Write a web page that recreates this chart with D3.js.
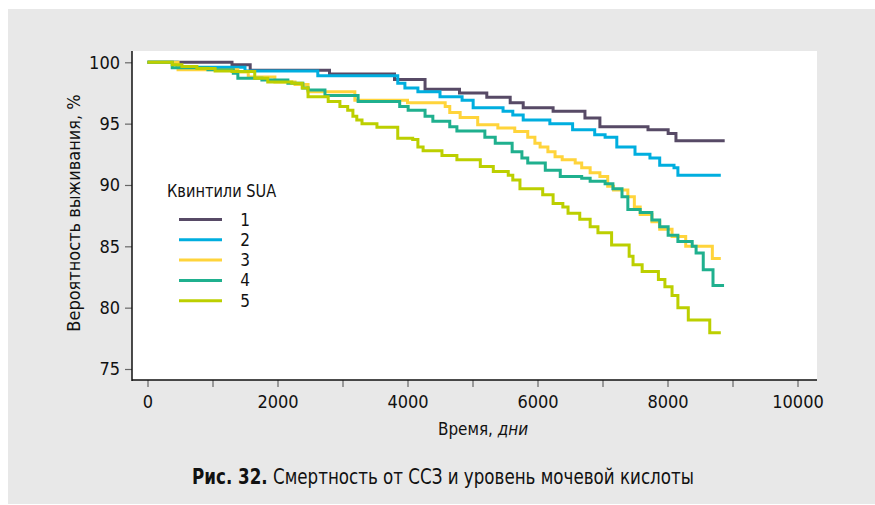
<!DOCTYPE html>
<html>
<head>
<meta charset="utf-8">
<script src="https://cdn.jsdelivr.net/npm/d3@7"></script>
<style>
  body { margin: 0; background: #fff; }
  svg text { font-family: "Liberation Sans Narrow", "DejaVu Sans Condensed", "Roboto", sans-serif; fill: #111; }
</style>
</head>
<body>
<div id="chart"></div>
<script>
// Квинтили SUA: точки ступенек [день, %]
const quintiles = ["1", "2", "3", "4", "5"];
const colors = ["#574a66", "#00aedf", "#ffd43b", "#1fb08e", "#bccf00"];

const q1 = [[0,100],[1300,99.8],[1580,99.35],[2800,99.05],[3800,98.6],[4270,97.8],[4800,97.5],[5220,97.15],[5580,96.7],[5780,96.3],[6240,96.0],[6730,95.45],[6960,94.75],[7700,94.5],[8010,94.2],[8130,93.6],[8880,93.6]];
const q2 = [[0,100],[455,99.6],[1500,99.3],[2620,98.9],[3850,98.3],[3960,97.9],[4160,97.6],[4500,97.2],[4840,96.9],[5010,96.3],[5470,96.0],[5620,95.7],[5780,95.3],[6190,95.0],[6540,94.5],[6880,94.1],[7040,93.9],[7220,93.1],[7500,92.5],[7730,92.2],[7880,91.6],[8100,91.4],[8160,90.8],[8820,90.8]];
const q3 = [[0,100],[470,99.4],[1390,99.2],[1550,98.8],[1960,98.4],[2270,98.2],[2470,97.6],[3190,96.9],[4000,96.7],[4580,96.4],[4650,95.9],[4810,95.5],[5080,94.9],[5390,94.65],[5650,94.35],[5850,93.9],[5960,93.4],[6040,93.1],[6160,92.7],[6270,92.3],[6380,92.05],[6580,91.8],[6680,91.4],[6810,91.0],[6960,90.7],[7080,89.9],[7170,89.6],[7390,89.05],[7490,88.2],[7580,87.6],[7760,87.0],[7880,86.4],[8070,85.8],[8280,85.0],[8690,84.0],[8820,84.0]];
const q4 = [[0,100],[380,99.55],[930,99.4],[1320,99.1],[1390,98.7],[1760,98.55],[2160,98.3],[2390,97.9],[2470,97.75],[2730,97.3],[3240,96.8],[3880,96.4],[4010,96.1],[4270,95.6],[4390,95.2],[4650,94.75],[4760,94.4],[5190,93.9],[5350,93.4],[5610,92.7],[5760,92.2],[5850,91.8],[6120,91.2],[6350,90.7],[6680,90.55],[6810,90.3],[7040,90.1],[7160,89.7],[7300,89.05],[7390,88.0],[7580,87.75],[7760,87.15],[7880,86.6],[8010,85.9],[8160,85.4],[8380,85.0],[8440,84.45],[8550,83.1],[8700,81.8],[8870,81.8]];
const q5 = [[0,100],[380,99.8],[530,99.65],[760,99.5],[1040,99.3],[1300,99.25],[1650,98.7],[1850,98.4],[2220,98.3],[2380,97.9],[2470,97.2],[2780,96.8],[2960,96.4],[3080,96.1],[3160,95.6],[3220,95.3],[3300,95.0],[3530,94.7],[3850,93.8],[4080,93.7],[4160,93.1],[4240,92.8],[4530,92.4],[4760,92.05],[5120,91.5],[5320,91.1],[5550,90.8],[5620,90.4],[5730,89.7],[6080,89.2],[6240,88.5],[6390,88.2],[6470,87.7],[6650,87.2],[6810,86.6],[6930,86.1],[7140,85.1],[7410,84.2],[7470,83.5],[7610,82.95],[7860,82.3],[7960,81.7],[8070,81.0],[8160,80.0],[8320,79.0],[8650,77.95],[8820,77.95]];
const series = [q1, q2, q3, q4, q5];

const xTicks = [0, 1000, 2000, 3000, 4000, 5000, 6000, 7000, 8000, 9000, 10000];
const yTicks = [75, 80, 85, 90, 95, 100];

const width = 875, height = 505;
const plot = { left: 132, right: 817, top: 51, bottom: 380 };

const svg = d3.select("#chart").append("svg")
    .attr("width", width).attr("height", height);

// Фон
svg.append("rect").attr("x", 8).attr("y", 9).attr("width", width - 8).attr("height", height - 10).attr("fill", "#e8e8e8");
svg.append("rect").attr("x", plot.left).attr("y", plot.top)
    .attr("width", plot.right - plot.left).attr("height", plot.bottom - plot.top).attr("fill", "#fff");

const x = d3.scaleLinear().domain([0, 10000]).range([147.5, 797.5]);
const y = d3.scaleLinear().domain([75, 100]).range([369, 62.3]);

// Оси
const xAxis = svg.append("g").attr("transform", `translate(0,${plot.bottom})`)
    .call(d3.axisBottom(x).tickValues(xTicks).tickSize(7).tickSizeOuter(0)
        .tickFormat(d => d % 2000 === 0 ? d : ""));
const yAxis = svg.append("g").attr("transform", `translate(${plot.left},0)`)
    .call(d3.axisLeft(y).tickValues(yTicks).tickSize(7).tickSizeOuter(0));
[xAxis, yAxis].forEach(a => {
    a.select(".domain").remove();
    a.selectAll(".tick line").attr("stroke", "#666").attr("stroke-width", 1.2);
    a.selectAll(".tick text").style("font-size", "18px").attr("fill", "#111");
});
xAxis.selectAll(".tick text").attr("dy", "1em");
yAxis.selectAll(".tick text").attr("x", -12);

svg.append("line").attr("x1", plot.left).attr("x2", plot.left).attr("y1", plot.top).attr("y2", plot.bottom + 1)
    .attr("stroke", "#111").attr("stroke-width", 1.5);
svg.append("line").attr("x1", plot.left).attr("x2", plot.right).attr("y1", plot.bottom).attr("y2", plot.bottom)
    .attr("stroke", "#111").attr("stroke-width", 1.5);

// Кривые выживания
const line = d3.line().curve(d3.curveStepAfter).x(d => x(d[0])).y(d => y(d[1]));
series.forEach((s, i) => {
    svg.append("path").datum(s)
        .attr("d", line)
        .attr("fill", "none")
        .attr("stroke", colors[i])
        .attr("stroke-width", 3)
        .attr("stroke-linejoin", "miter");
});

// Легенда
const legend = svg.append("g").attr("transform", "translate(167,0)");
legend.append("text").attr("transform", "translate(0,197) scale(0.9,1)").style("font-size", "18px")
    .text("Квинтили SUA");
quintiles.forEach((q, i) => {
    const yy = 219.5 + i * 20.3;
    legend.append("line").attr("x1", 12).attr("x2", 55).attr("y1", yy).attr("y2", yy)
        .attr("stroke", colors[i]).attr("stroke-width", 3);
    legend.append("text").attr("x", 78).attr("y", yy + 6).attr("text-anchor", "middle")
        .style("font-size", "17px").text(q);
});

// Подписи осей
svg.append("text").attr("transform", "translate(80,213) rotate(-90)")
    .attr("text-anchor", "middle").style("font-size", "18px")
    .text("Вероятность выживания, %");

const xl = svg.append("text").attr("transform", "translate(483,435) scale(0.94,1)")
    .attr("text-anchor", "middle").style("font-size", "18px");
xl.append("tspan").text("Время, ");
xl.append("tspan").style("font-style", "italic").text("дни");

// Подпись рисунка
const cap = svg.append("text").attr("transform", "translate(443,484) scale(0.885,1)")
    .attr("text-anchor", "middle").style("font-size", "21px");
cap.append("tspan").style("font-weight", "bold").text("Рис. 32.");
cap.append("tspan").text(" Смертность от ССЗ и уровень мочевой кислоты");
</script>
</body>
</html>
